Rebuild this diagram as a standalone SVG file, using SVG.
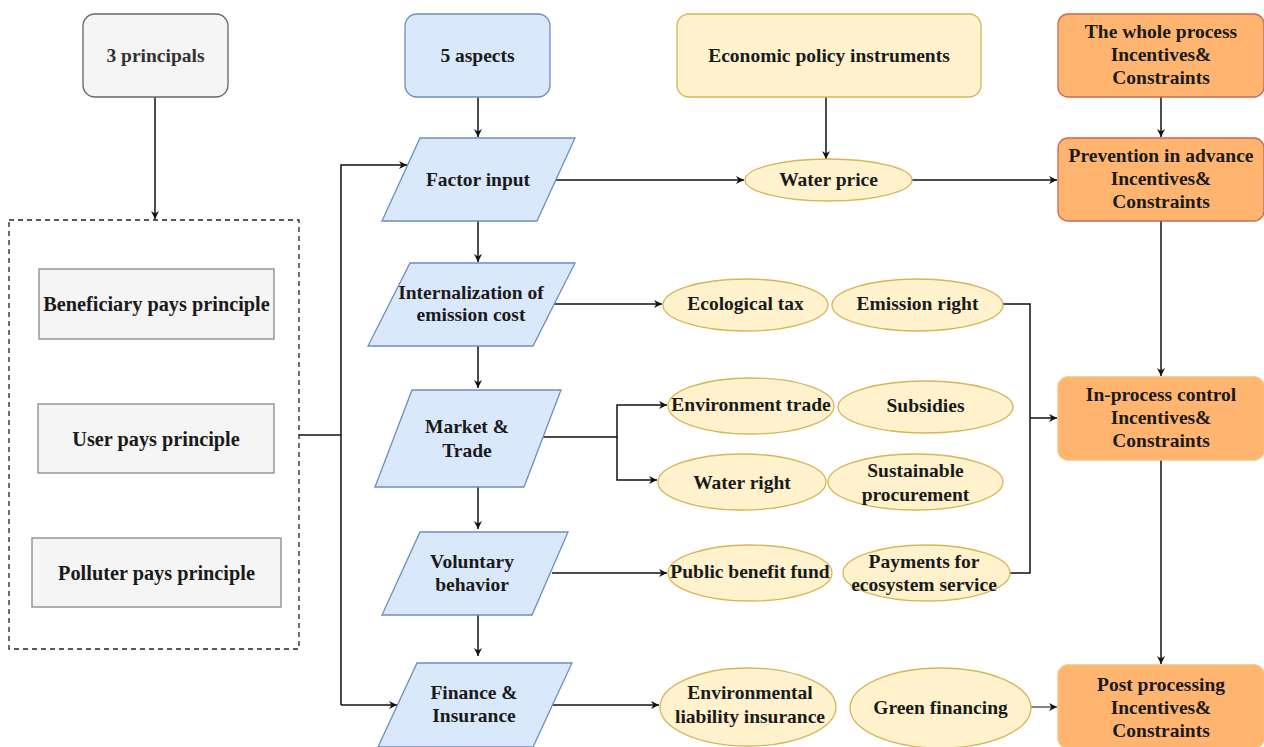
<svg xmlns="http://www.w3.org/2000/svg" width="1264" height="747" viewBox="0 0 1264 747" font-family="'Liberation Serif', 'DejaVu Serif', serif">
<style>
text{font-family:'Liberation Serif','DejaVu Serif',serif;font-weight:700;font-size:19.5px;fill:#1a1a1a;text-anchor:middle;dominant-baseline:central}
.pr text{font-weight:700;font-size:20.3px}
.gray{fill:#f5f5f5;stroke:#666;stroke-width:1.3}
.grayr{fill:#f5f5f5;stroke:#888;stroke-width:1.3}
.blue{fill:#dae8fc;stroke:#6c8ebf;stroke-width:1.3}
.yel{fill:#fff2cc;stroke:#d6b656;stroke-width:1.3}
.orr{fill:#ffb570;stroke:#d0654f;stroke-width:1.3}
.oro{fill:#ffb570;stroke:#f3c27f;stroke-width:1.3}
.c{fill:none;stroke:#111;stroke-width:1.5}
</style>
<defs>
<marker id="a" viewBox="0 0 10 10" refX="10" refY="5" markerWidth="8" markerHeight="8" markerUnits="userSpaceOnUse" orient="auto"><path d="M0,0 L10,5 L0,10 L3,5 Z" fill="#111"/></marker>
</defs>

<g id="connectors">
<path class="c" d="M155,97 V219" marker-end="url(#a)"/>
<path class="c" d="M299,435 H341"/>
<path class="c" d="M341,705 V165 H407" marker-end="url(#a)"/>
<path class="c" d="M341,705 H397" marker-end="url(#a)"/>
<path class="c" d="M478,97 V137" marker-end="url(#a)"/>
<path class="c" d="M478,221 V262" marker-end="url(#a)"/>
<path class="c" d="M478,346 V388" marker-end="url(#a)"/>
<path class="c" d="M478,487 V529" marker-end="url(#a)"/>
<path class="c" d="M478,615 V656" marker-end="url(#a)"/>
<path class="c" d="M826,97 V159" marker-end="url(#a)"/>
<path class="c" d="M556,180 H744" marker-end="url(#a)"/>
<path class="c" d="M912,180 H1057" marker-end="url(#a)"/>
<path class="c" d="M1161,97 V137" marker-end="url(#a)"/>
<path class="c" d="M1161,221 V376" marker-end="url(#a)"/>
<path class="c" d="M1161,460 V664" marker-end="url(#a)"/>
<path class="c" d="M553,304 H662" marker-end="url(#a)"/>
<path class="c" d="M1003,304 H1030 V573 H1010"/>
<path class="c" d="M1030,418 H1057" marker-end="url(#a)"/>
<path class="c" d="M543,437 H617 V405 H667" marker-end="url(#a)"/>
<path class="c" d="M617,437 V480 H657" marker-end="url(#a)"/>
<path class="c" d="M552,573 H667" marker-end="url(#a)"/>
<path class="c" d="M553,705 H659" marker-end="url(#a)"/>
<path d="M1031,707 H1057" fill="none" stroke="#777" stroke-width="1.8" marker-end="url(#a)"/>
</g>

<g id="n-3principals"><rect class="gray" x="83" y="14" width="145" height="83" rx="12"/><text x="155.5" y="55" style="fill:#333">3 principals</text></g>
<g id="n-principles-group"><rect x="9" y="220" width="290" height="429" fill="none" stroke="#222" stroke-width="1.3" stroke-dasharray="5,4"/></g>
<g id="n-beneficiary" class="pr"><rect class="grayr" x="39" y="269" width="235" height="70"/><text x="156.5" y="304">Beneficiary pays principle</text></g>
<g id="n-user" class="pr"><rect class="grayr" x="38" y="404" width="236" height="69"/><text x="156" y="439">User pays principle</text></g>
<g id="n-polluter" class="pr"><rect class="grayr" x="32" y="538" width="249" height="69"/><text x="156.5" y="573">Polluter pays principle</text></g>

<g id="n-5aspects"><rect class="blue" x="405" y="14" width="145" height="83" rx="12"/><text x="477.5" y="55">5 aspects</text></g>
<g id="n-factor"><polygon class="blue" points="420,138 575,138 537,221 382,221"/><text x="478" y="179">Factor input</text></g>
<g id="n-internal"><polygon class="blue" points="410,263 575,263 533,346 368,346"/><text x="471" y="292">Internalization of</text><text x="471" y="314">emission cost</text></g>
<g id="n-market"><polygon class="blue" points="412,390 561,390 524,487 375,487"/><text x="467" y="426">Market &amp;</text><text x="467" y="450">Trade</text></g>
<g id="n-voluntary"><polygon class="blue" points="420,532 568,532 532,615 382,615"/><text x="472" y="561">Voluntary</text><text x="472" y="584">behavior</text></g>
<g id="n-finance"><polygon class="blue" points="417,663 572,663 533,747 378,747"/><text x="474" y="692">Finance &amp;</text><text x="474" y="715">Insurance</text></g>

<g id="n-econ"><rect class="yel" x="677" y="14" width="304" height="83" rx="12"/><text x="829" y="55">Economic policy instruments</text></g>
<g id="n-waterprice"><ellipse class="yel" cx="828.5" cy="180" rx="83.5" ry="21"/><text x="828.5" y="179">Water price</text></g>
<g id="n-ecotax"><ellipse class="yel" cx="745.5" cy="305" rx="82.5" ry="26"/><text x="745.5" y="303">Ecological tax</text></g>
<g id="n-emission"><ellipse class="yel" cx="917.5" cy="305" rx="85.5" ry="26"/><text x="917.5" y="303">Emission right</text></g>
<g id="n-envtrade"><ellipse class="yel" cx="751" cy="406" rx="83" ry="28"/><text x="751" y="404">Environment trade</text></g>
<g id="n-subsidies"><ellipse class="yel" cx="925.5" cy="407" rx="87.5" ry="26"/><text x="925.5" y="405">Subsidies</text></g>
<g id="n-waterright"><ellipse class="yel" cx="742" cy="482" rx="84" ry="28"/><text x="742" y="482">Water right</text></g>
<g id="n-sustain"><ellipse class="yel" cx="915.5" cy="482" rx="87.5" ry="28"/><text x="915.5" y="470">Sustainable</text><text x="915.5" y="494">procurement</text></g>
<g id="n-public"><ellipse class="yel" cx="750" cy="573" rx="82" ry="28"/><text x="750" y="571">Public benefit fund</text></g>
<g id="n-payments"><ellipse class="yel" cx="926.5" cy="573" rx="83.5" ry="28"/><text x="924" y="561">Payments for</text><text x="924" y="584">ecosystem service</text></g>
<g id="n-liability"><ellipse class="yel" cx="748" cy="707" rx="88" ry="39"/><text x="750" y="692">Environmental</text><text x="750" y="716">liability insurance</text></g>
<g id="n-green"><ellipse class="yel" cx="940.5" cy="708" rx="90.5" ry="40"/><text x="940.5" y="707">Green financing</text></g>

<g id="n-whole"><rect class="orr" x="1058" y="14" width="206" height="83" rx="10"/><text x="1161" y="31">The whole process</text><text x="1161" y="54">Incentives&amp;</text><text x="1161" y="77">Constraints</text></g>
<g id="n-prevention"><rect class="orr" x="1058" y="138" width="206" height="83" rx="10"/><text x="1161" y="155">Prevention in advance</text><text x="1161" y="178">Incentives&amp;</text><text x="1161" y="201">Constraints</text></g>
<g id="n-inprocess"><rect class="oro" x="1058" y="377" width="206" height="83" rx="10"/><text x="1161" y="394">In-process control</text><text x="1161" y="417">Incentives&amp;</text><text x="1161" y="440">Constraints</text></g>
<g id="n-post"><rect class="oro" x="1058" y="665" width="206" height="83" rx="10"/><text x="1161" y="684">Post processing</text><text x="1161" y="707">Incentives&amp;</text><text x="1161" y="730">Constraints</text></g>
</svg>
